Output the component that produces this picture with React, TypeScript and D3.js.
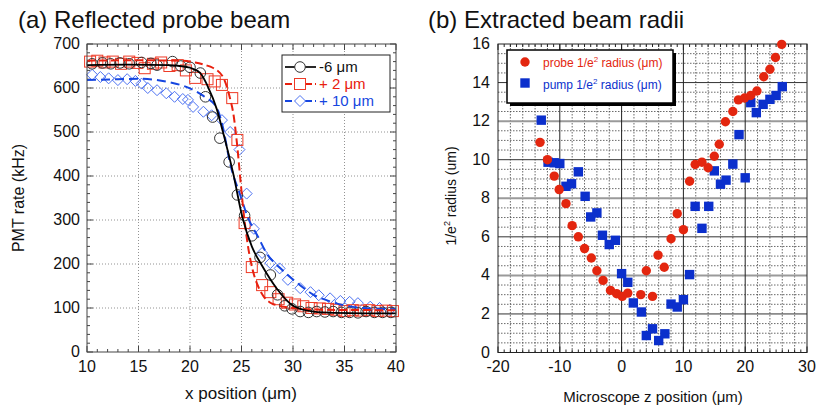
import React from "react";
import * as d3 from "d3";

const FONT = "'Liberation Sans', Arial, Helvetica, sans-serif";
const MU = "\u03bc";

// ---------- Panel (a) data ----------
const blackPts: [number, number][] = [
  [10.5,655],[11.5,657],[12.3,655],[13.2,657],[14.1,655],[15.3,658],[16.2,656],[16.8,652],[18.3,660],[19.1,650],
  [20,647],[21,634],[21.5,580],[22.2,534],[22.9,486],[23.8,432],[24.6,357],[25.3,310],[26.0,264],[26.8,215],
  [27.8,175],[28.5,130],[29.2,105],[29.9,98],[30.7,92],[31.5,90],[32.3,92],[33.1,91],[33.9,92],[34.7,90],
  [35.5,90],[36.3,89],[37.1,92],[37.9,90],[38.7,90],[39.5,90]
];
const blackFit: [number, number][] = [
  [10,652],[14,653],[18,652],[19,650],[20,646],[21,634],[21.7,605],[22.6,552],[23.2,500],[24.2,405],
  [25.1,305],[26,240],[27,196],[28.4,145],[29.9,107],[31,96],[32,92],[34,89],[37,88],[40,88]
];
const redPts: [number, number][] = [
  [10.3,660],[11,662],[11.7,658],[12.5,660],[13.3,655],[14.1,660],[14.9,657],[15.6,645],[16.4,655],[17.2,658],
  [18,650],[18.8,652],[19.6,640],[20.5,623],[21.7,620],[22.4,615],[23.1,607],[24.1,577],[24.6,482],[25.3,293],
  [26.0,193],[27.0,152],[27.8,136],[28.6,120],[29.4,112],[30.2,108],[31,104],[31.8,100],[32.6,99],[33.4,98],
  [34.2,96],[35,93],[35.8,95],[36.6,94],[37.4,95],[38.2,93],[39,94],[39.7,93]
];
const redFit: [number, number][] = [
  [10,662],[15,663],[19,662],[20.5,658],[21.5,652],[22.2,646],[23.2,625],[23.9,575],[24.2,543],[24.6,465],
  [24.9,390],[25.2,318],[25.6,245],[26.1,185],[26.6,150],[27.1,128],[27.8,112],[28.5,106],[30,100],[33,96],[40,95]
];
const bluePts: [number, number][] = [
  [10.5,630],[11.3,625],[12.1,622],[13,618],[13.9,620],[14.7,616],[15.3,610],[15.9,600],[16.8,595],[17.7,588],
  [18.5,580],[19.3,575],[19.8,573],[20.3,557],[21.3,546],[22.1,538],[23.1,527],[23.9,500],[24.8,460],[25.5,360],
  [26.2,280],[27,225],[27.8,202],[28.7,190],[29.5,164],[30.7,145],[31.7,136],[32.5,129],[33.6,122],[34.6,116],
  [35.5,114],[36.3,111],[37.5,103],[38.4,100],[39.4,96]
];
const blueFit: [number, number][] = [
  [10,618],[13,620],[15.1,621],[18,613],[19.7,602],[21.3,582],[22.6,555],[23.2,510],[23.9,428],[24.9,355],
  [25.6,307],[26.6,262],[27.5,222],[28.7,192],[30.4,157],[32,130],[33.6,115],[35,106],[36.8,100],[40,97]
];
const xTicksA = [10, 15, 20, 25, 30, 35, 40];
const yTicksA = [0, 100, 200, 300, 400, 500, 600, 700];
const legendA = ["-6 " + MU + "m", "+ 2 " + MU + "m", "+ 10 " + MU + "m"];

// ---------- Panel (b) data ----------
const probeZ = [-13.2,-12.0,-10.9,-10.1,-9.0,-8.0,-7.0,-6.0,-4.9,-4.0,-3.0,-1.8,-0.8,0.1,1.0,3.1,4.0,5.0,5.9,6.9,8.0,9.0,10.0,11.0,11.9,13.0,14.0,15.0,15.8,16.8,18.0,18.9,19.9,20.9,21.9,23.0,24.0,24.9,25.9];
const probeR = [10.9,10.0,9.15,8.45,7.72,6.58,6.0,5.39,4.9,4.24,3.74,3.22,3.05,2.91,3.08,3.0,4.24,2.91,5.05,4.42,5.9,7.2,6.37,8.88,9.75,9.87,9.58,10.18,10.8,11.97,12.5,13.1,13.2,13.33,13.56,14.3,14.69,15.3,15.98];
const pumpZ = [-13.0,-11.9,-10.9,-10.0,-9.0,-8.1,-7.0,-5.9,-5.0,-4.0,-3.1,-2.0,-1.0,0.0,1.0,1.9,3.2,4.0,5.0,6.0,7.0,8.0,9.0,10.0,11.0,11.9,13.0,14.1,15.0,16.0,16.9,18.0,19.0,20.0,20.9,21.8,22.9,24.0,25.0,26.0];
const pumpR = [12.05,9.87,9.84,9.8,8.62,8.75,9.37,8.1,7.03,7.24,6.08,5.6,5.82,4.09,3.64,2.57,2.1,0.88,1.23,0.62,0.97,2.51,2.36,2.74,4.04,7.58,6.44,7.58,9.42,8.73,8.94,9.77,11.3,9.06,12.96,12.44,12.87,13.13,13.33,13.79];
const xTicksB = [-20, -10, 0, 10, 20, 30];
const yTicksB = [0, 2, 4, 6, 8, 10, 12, 14, 16];

const RED = "#e3260f";
const BLUE = "#0b2fcc";

export default function App() {
  // Panel (a) scales
  const xA = d3.scaleLinear().domain([10, 40]).range([87, 396]);
  const yA = d3.scaleLinear().domain([0, 700]).range([352, 44]);
  const lineA = d3.line<[number, number]>().x(d => xA(d[0])).y(d => yA(d[1])).curve(d3.curveMonotoneX);

  // Panel (b) scales
  const xB = d3.scaleLinear().domain([-20, 30]).range([498, 807]);
  const yB = d3.scaleLinear().domain([0, 16]).range([352.5, 44]);

  const minorXA = d3.range(10, 40.01, 1);
  const minorYA = d3.range(0, 700.01, 20);

  const diamond = (cx: number, cy: number, r: number) =>
    `M${cx},${cy - r}L${cx + r},${cy}L${cx},${cy + r}L${cx - r},${cy}Z`;

  const gridXB = d3.range(-18, 30, 2);
  const gridYB = d3.range(0.5, 16, 0.5);

  return (
    <svg width={816} height={409} style={{ position: "absolute", left: 0, top: 0, background: "#fff" }} fontFamily={FONT}>
      <rect x={0} y={0} width={816} height={409} fill="#fff" />
      {/* ===== Panel (a) ===== */}
      <text x={18} y={28} fontSize={24} fill="#111">(a) Reflected probe beam</text>
      {xTicksA.slice(1, -1).map(t => (
        <line key={"gxa" + t} x1={xA(t)} x2={xA(t)} y1={yA(0)} y2={yA(700)} stroke="#777" strokeWidth={0.8} strokeDasharray="1,2" />
      ))}
      {yTicksA.slice(1, -1).map(t => (
        <line key={"gya" + t} x1={xA(10)} x2={xA(40)} y1={yA(t)} y2={yA(t)} stroke="#777" strokeWidth={0.8} strokeDasharray="1,2" />
      ))}
      {minorXA.map(t => {
        const len = t % 5 === 0 ? 6 : 3;
        return (
          <g key={"txa" + t} stroke="#444" strokeWidth={1}>
            <line x1={xA(t)} x2={xA(t)} y1={yA(0)} y2={yA(0) - len} />
            <line x1={xA(t)} x2={xA(t)} y1={yA(700)} y2={yA(700) + len} />
          </g>
        );
      })}
      {minorYA.map(t => {
        const len = t % 100 === 0 ? 6 : 3;
        return (
          <g key={"tya" + t} stroke="#444" strokeWidth={1}>
            <line x1={xA(10)} x2={xA(10) + len} y1={yA(t)} y2={yA(t)} />
            <line x1={xA(40)} x2={xA(40) - len} y1={yA(t)} y2={yA(t)} />
          </g>
        );
      })}
      {bluePts.map((d, i) => (
        <path key={"bp" + i} d={diamond(xA(d[0]), yA(d[1]), 5.5)} fill="none" stroke="#4d72f2" strokeWidth={1} />
      ))}
      {redPts.map((d, i) => (
        <rect key={"rp" + i} x={xA(d[0]) - 5.5} y={yA(d[1]) - 5.5} width={11} height={11} fill="none" stroke="#ee3a26" strokeWidth={1} />
      ))}
      {blackPts.map((d, i) => (
        <circle key={"kp" + i} cx={xA(d[0])} cy={yA(d[1])} r={5.3} fill="none" stroke="#333" strokeWidth={1} />
      ))}
      <path d={lineA(blueFit) || ""} fill="none" stroke="#1646e0" strokeWidth={2} strokeDasharray="9,5" />
      <path d={lineA(redFit) || ""} fill="none" stroke="#e8200e" strokeWidth={2} strokeDasharray="8,4" />
      <path d={lineA(blackFit) || ""} fill="none" stroke="#000" strokeWidth={1.8} />
      <rect x={xA(10)} y={yA(700)} width={xA(40) - xA(10)} height={yA(0) - yA(700)} fill="none" stroke="#444" strokeWidth={1} />
      {xTicksA.map(t => (
        <text key={"lxa" + t} x={xA(t)} y={372} fontSize={16} textAnchor="middle" fill="#111">{t}</text>
      ))}
      {yTicksA.map(t => (
        <text key={"lya" + t} x={80} y={yA(t) + 5} fontSize={16} textAnchor="end" fill="#111">{t}</text>
      ))}
      <text x={241} y={399} fontSize={17} textAnchor="middle" fill="#111">{"x position (" + MU + "m)"}</text>
      <text transform={`translate(24,198) rotate(-90)`} fontSize={16} textAnchor="middle" fill="#111">PMT rate (kHz)</text>
      <rect x={282} y={55} width={108} height={57} fill="#fff" stroke="#222" strokeWidth={1} />
      {legendA.map((label, i) => {
        const ly = 67 + i * 17;
        const col = i === 0 ? "#111" : i === 1 ? "#e8200e" : "#1646e0";
        const mcol = i === 0 ? "#333" : i === 1 ? "#ee3a26" : "#4d72f2";
        return (
          <g key={"lg" + i}>
            <line x1={285} x2={316} y1={ly} y2={ly} stroke={col} strokeWidth={1.8} strokeDasharray={i === 0 ? undefined : "7,3"} />
            {i === 0 && <circle cx={300} cy={ly} r={5.3} fill="#fff" stroke={mcol} strokeWidth={1} />}
            {i === 1 && <rect x={294.5} y={ly - 5.5} width={11} height={11} fill="#fff" stroke={mcol} strokeWidth={1} />}
            {i === 2 && <path d={diamond(300, ly, 5.5)} fill="#fff" stroke={mcol} strokeWidth={1} />}
            <text x={319} y={ly + 5} fontSize={15} fill={col}>{label}</text>
          </g>
        );
      })}

      {/* ===== Panel (b) ===== */}
      <text x={428} y={28} fontSize={24} fill="#111">(b) Extracted beam radii</text>
      {gridXB.filter(t => t % 10 !== 0).map(t => (
        <line key={"gxb" + t} x1={xB(t)} x2={xB(t)} y1={yB(0)} y2={yB(16)} stroke="#444" strokeWidth={0.8} strokeDasharray="1.5,1.5" />
      ))}
      {gridYB.filter(t => t % 2 !== 0).map(t => (
        <line key={"gyb" + t} x1={xB(-20)} x2={xB(30)} y1={yB(t)} y2={yB(t)} stroke="#444" strokeWidth={0.8} strokeDasharray="1.5,1.5" />
      ))}
      {[4, 8, 12].map(t => (
        <line key={"gyb2" + t} x1={xB(-20)} x2={xB(30)} y1={yB(t)} y2={yB(t)} stroke="#9a9a9a" strokeWidth={2} />
      ))}
      {[2, 6, 10, 14].map(t => (
        <line key={"gyb3" + t} x1={xB(-20)} x2={xB(30)} y1={yB(t)} y2={yB(t)} stroke="#333" strokeWidth={1} />
      ))}
      {[-10, 0, 10, 20].map(t => (
        <line key={"gxb2" + t} x1={xB(t)} x2={xB(t)} y1={yB(0)} y2={yB(16)} stroke="#222" strokeWidth={1} />
      ))}
      {d3.range(-20, 30.01, 1).map(t => {
        const len = t % 10 === 0 ? 6 : 3;
        return (
          <g key={"txb" + t} stroke="#222" strokeWidth={1}>
            <line x1={xB(t)} x2={xB(t)} y1={yB(0)} y2={yB(0) - len} />
            <line x1={xB(t)} x2={xB(t)} y1={yB(16)} y2={yB(16) + len} />
          </g>
        );
      })}
      <rect x={xB(-20)} y={yB(16)} width={xB(30) - xB(-20)} height={yB(0) - yB(16)} fill="none" stroke="#222" strokeWidth={1} />
      {pumpZ.map((z, i) => (
        <rect key={"pu" + i} x={xB(z) - 4.7} y={yB(pumpR[i]) - 4.7} width={9.4} height={9.4} fill={BLUE} />
      ))}
      {probeZ.map((z, i) => (
        <circle key={"pr" + i} cx={xB(z)} cy={yB(probeR[i])} r={4.7} fill={RED} />
      ))}
      {xTicksB.map(t => (
        <text key={"lxb" + t} x={xB(t)} y={372} fontSize={16} textAnchor="middle" fill="#111">{t}</text>
      ))}
      {yTicksB.map(t => (
        <text key={"lyb" + t} x={490} y={yB(t) + 5} fontSize={16} textAnchor="end" fill="#111">{t}</text>
      ))}
      <text x={653} y={402} fontSize={15} textAnchor="middle" fill="#111">{"Microscope z position (" + MU + "m)"}</text>
      <text transform={`translate(456,196) rotate(-90)`} fontSize={14} textAnchor="middle" fill="#111">
        1/e<tspan dy={-6} fontSize={9}>2</tspan><tspan dy={6}> radius (um)</tspan>
      </text>
      <rect x={510} y={53} width={166} height={53} fill="#000" />
      <rect x={507} y={50} width={166} height={53} fill="#fff" stroke="#000" strokeWidth={1.5} />
      <circle cx={525} cy={62} r={4.7} fill={RED} />
      <text x={543} y={67} fontSize={12} fill={RED}>
        probe 1/e<tspan dy={-5} fontSize={8}>2</tspan><tspan dy={5}>{" radius (" + MU + "m)"}</tspan>
      </text>
      <rect x={520.3} y={78.3} width={9.4} height={9.4} fill={BLUE} />
      <text x={543} y={89} fontSize={12} fill={BLUE}>
        pump 1/e<tspan dy={-5} fontSize={8}>2</tspan><tspan dy={5}>{" radius (" + MU + "m)"}</tspan>
      </text>
    </svg>
  );
}
